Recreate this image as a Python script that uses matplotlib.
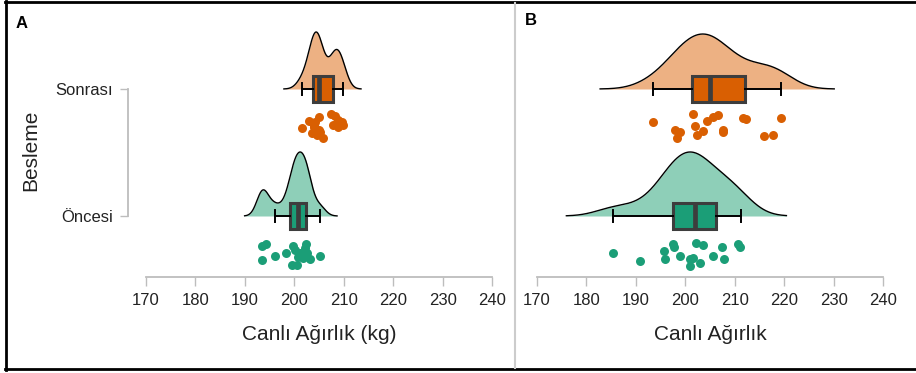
import numpy as np
import matplotlib.pyplot as plt
from matplotlib.lines import Line2D

plt.rcParams['font.family'] = ['Liberation Sans', 'DejaVu Sans']

groups = ['Öncesi', 'Sonrası']
ticks_x = [170, 180, 190, 200, 210, 220, 230, 240]

# panel A (kg)
a_son_x = [201.5, 202.9, 204.9, 203.9, 203.5, 204.9, 204.6, 205.8, 207.4, 208.3,
           207.9, 208.8, 209.6, 209.9, 208.8, 204.2, 204.0, 205.2]
a_son_y = [0.695, 0.748, 0.777, 0.709, 0.656, 0.677, 0.638, 0.612, 0.801, 0.790,
           0.717, 0.698, 0.743, 0.717, 0.756, 0.743, 0.700, 0.660]
a_onc_x = [193.4, 194.2, 193.4, 196.1, 198.3, 199.8, 200.2, 202.4, 202.2, 201.2,
           201.7, 203.2, 205.2, 199.5, 200.5, 200.8, 202.5]
a_onc_y = [-0.236, -0.223, -0.346, -0.315, -0.294, -0.236, -0.268, -0.220, -0.254, -0.294,
           -0.333, -0.341, -0.315, -0.386, -0.386, -0.320, -0.294]
# whislo, q1, median, q3, whishi
a_son_box = [201.6, 203.7, 204.9, 207.9, 209.9]
a_onc_box = [196.0, 199.15, 200.7, 202.4, 205.2]

# panel B
b_son_x = [193.5, 201.5, 201.9, 197.9, 198.9, 198.4, 202.3, 203.5, 204.4, 205.6,
           206.6, 207.6, 207.7, 211.6, 212.3, 219.4, 216.0, 217.7]
b_son_y = [0.740, 0.807, 0.711, 0.675, 0.664, 0.617, 0.638, 0.672, 0.750, 0.777,
           0.798, 0.681, 0.659, 0.774, 0.764, 0.774, 0.630, 0.638]
b_onc_x = [185.3, 190.8, 195.6, 195.9, 197.6, 197.7, 198.9, 200.9, 201.5, 200.9,
           203.0, 202.1, 203.5, 205.7, 207.5, 207.8, 210.6, 211.1]
b_onc_y = [-0.289, -0.354, -0.273, -0.339, -0.220, -0.246, -0.315, -0.339, -0.333, -0.391,
           -0.368, -0.215, -0.231, -0.315, -0.242, -0.339, -0.220, -0.246]
b_son_box = [193.5, 201.4, 204.9, 212.0, 219.3]
b_onc_box = [185.3, 197.6, 202.0, 206.3, 211.2]

dark = {'Öncesi': '#1b9e77', 'Sonrası': '#d95f02'}
light = {'Öncesi': '#8ecfb8', 'Sonrası': '#edb183'}
edge = '#3d3d3d'


def kde_curve(values, bw, cut=3, n=400):
    values = np.asarray(values)
    grid = np.linspace(values.min() - cut * bw, values.max() + cut * bw, n)
    dens = np.exp(-0.5 * ((grid[:, None] - values[None, :]) / bw) ** 2).sum(axis=1)
    return grid, dens / dens.max()


def raincloud(ax, name, base, xs, ys, box, bw, cut, height):
    grid, dens = kde_curve(xs, bw, cut)
    ax.fill_between(grid, base, base + height * dens, color=light[name], lw=0, zorder=1)
    ax.plot(grid, base + height * dens, color='black', lw=1.0, zorder=2)
    stats = [dict(whislo=box[0], q1=box[1], med=box[2], q3=box[3], whishi=box[4])]
    ax.bxp(stats, positions=[base], widths=0.205, orientation='horizontal',
           patch_artist=True, showfliers=False, manage_ticks=False, capwidths=0.1,
           boxprops=dict(facecolor=dark[name], edgecolor=edge, lw=2.2),
           medianprops=dict(color=edge, lw=3.4),
           whiskerprops=dict(color='black', lw=1.4),
           capprops=dict(color='black', lw=1.4), zorder=3)
    ax.scatter(xs, ys, s=42, color=dark[name], lw=0, zorder=3)


W, H = 916, 373
fig = plt.figure(figsize=(W / 100, H / 100), dpi=100)
axA = fig.add_axes([146 / W, 96 / H, 346 / W, 257 / H])
axB = fig.add_axes([537 / W, 96 / H, 346 / W, 257 / H])

raincloud(axA, 'Sonrası', 1, a_son_x, a_son_y, a_son_box, 1.2, 3, 0.449)
raincloud(axA, 'Öncesi', 0, a_onc_x, a_onc_y, a_onc_box, 1.15, 3, 0.504)
raincloud(axB, 'Sonrası', 1, b_son_x, b_son_y, b_son_box, 3.7, 2.9, 0.433)
raincloud(axB, 'Öncesi', 0, b_onc_x, b_onc_y, b_onc_box, 3.6, 2.6, 0.504)

for ax, xlabel in [(axA, 'Canlı Ağırlık (kg)'), (axB, 'Canlı Ağırlık')]:
    ax.set_xlim(170, 240)
    ax.set_ylim(-0.4803, 1.5433)
    ax.set_xticks(ticks_x)
    ax.set_xlabel(xlabel, fontsize=15, color='#222222', labelpad=12)
    for s in ['top', 'right']:
        ax.spines[s].set_visible(False)
    ax.spines['bottom'].set_color('#bdbdbd')
    ax.spines['bottom'].set_linewidth(1.3)
    ax.tick_params(axis='x', length=6.5, width=1.0, color='#bdbdbd', labelsize=12,
                   labelcolor='#222222', pad=5)
    ax.patch.set_alpha(0)

axA.spines['left'].set_position(('outward', 13))
axA.spines['left'].set_bounds(0, 1)
axA.spines['left'].set_color('#bdbdbd')
axA.spines['left'].set_linewidth(1.3)
axA.set_yticks([0, 1])
axA.set_yticklabels(groups)
axA.tick_params(axis='y', length=6, width=1.0, color='#bdbdbd', labelsize=12,
                labelcolor='#222222', pad=5)
axB.spines['left'].set_visible(False)
axB.set_yticks([])

fig.text(31 / W, 1 - 150 / H, 'Besleme', rotation=90, ha='center', va='center',
         fontsize=15, color='#222222')
fig.text(16 / W, 1 - 16 / H, 'A', fontsize=12, fontweight='bold', va='top', ha='left')
fig.text(525 / W, 1 - 13 / H, 'B', fontsize=12, fontweight='bold', va='top', ha='left')

# panel frames
fig.add_artist(Line2D([6 / W, 6 / W], [1 - 1 / H, 1 - 369.5 / H], color='black', lw=2))
fig.add_artist(Line2D([5 / W, 1], [1 - 2 / H, 1 - 2 / H], color='black', lw=2))
fig.add_artist(Line2D([5 / W, 1], [1 - 369 / H, 1 - 369 / H], color='black', lw=2))
fig.add_artist(Line2D([515 / W, 515 / W], [1 - 3 / H, 1 - 368 / H], color='#cccccc', lw=1.5))

fig.savefig('out.png', dpi=100)
